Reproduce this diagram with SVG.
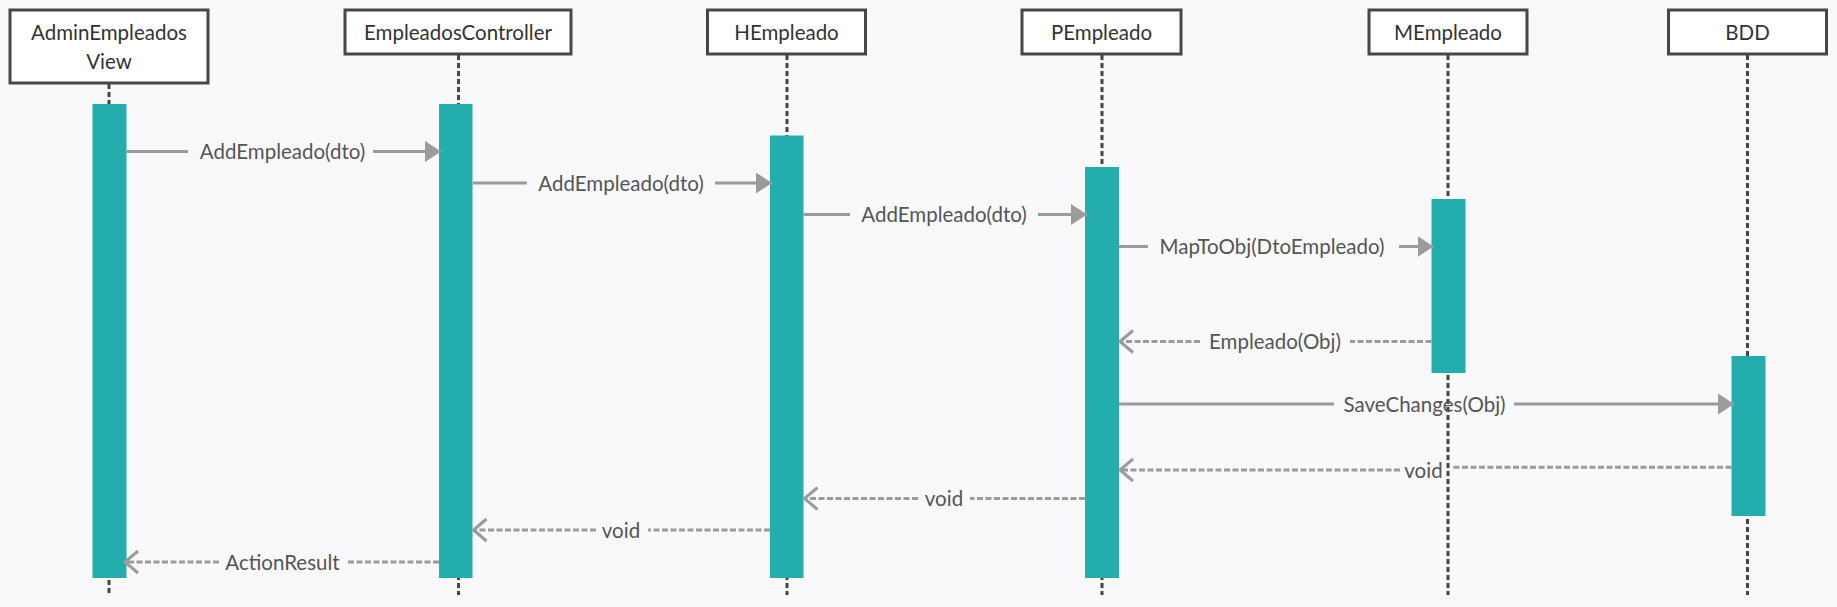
<svg xmlns="http://www.w3.org/2000/svg" width="1837" height="607" viewBox="0 0 1837 607">
<style>
.box{fill:#ffffff;stroke:#474747;stroke-width:3}
.lbl{font-family:Lato,"Liberation Sans",sans-serif;font-size:20.5px;fill:#333333;text-anchor:middle}
.life{stroke:#444444;stroke-width:3;stroke-dasharray:5 3;fill:none}
.bar{fill:#24adad}
.msg{stroke:#9b9b9b;stroke-width:3;fill:none}
.ret{stroke:#9b9b9b;stroke-width:3;fill:none;stroke-dasharray:6 2.5}
.mtxt{font-family:Lato,"Liberation Sans",sans-serif;font-size:20.5px;fill:#555555;text-anchor:middle}
</style>
<defs>
<marker id="tri" markerUnits="userSpaceOnUse" viewBox="0 0 16 21" refX="16" refY="10.5" markerWidth="16" markerHeight="21" orient="auto">
<path d="M0,0 L16,10.5 L0,21 z" fill="#9b9b9b"/>
</marker>
<marker id="vee" markerUnits="userSpaceOnUse" viewBox="-16 -13 18 26" refX="0" refY="0" markerWidth="18" markerHeight="26" orient="auto" overflow="visible">
<path d="M-13,-11 L0,0 L-13,11" fill="none" stroke="#9b9b9b" stroke-width="3"/>
</marker>
</defs>
<rect x="0" y="0" width="1837" height="607" fill="#f9f9fb"/>

<g id="lifelines">
<line class="life" x1="109" y1="84" x2="109" y2="595"/>
<line class="life" x1="458.5" y1="55" x2="458.5" y2="595"/>
<line class="life" x1="787" y1="55" x2="787" y2="595"/>
<line class="life" x1="1102" y1="55" x2="1102" y2="595"/>
<line class="life" x1="1448" y1="55" x2="1448" y2="595"/>
<line class="life" x1="1747.5" y1="55" x2="1747.5" y2="595"/>
</g>

<g id="n1">
<rect class="box" x="10" y="10" width="198" height="73"/>
<text class="lbl" x="109" y="39.5">AdminEmpleados</text>
<text class="lbl" x="109" y="68.5">View</text>
<rect class="bar" x="92.5" y="104" width="34" height="474"/>
</g>
<g id="n2">
<rect class="box" x="345" y="10" width="226" height="44"/>
<text class="lbl" x="458" y="39.5">EmpleadosController</text>
<rect class="bar" x="439" y="104" width="33.5" height="474"/>
</g>
<g id="n3">
<rect class="box" x="707.5" y="10" width="158" height="44"/>
<text class="lbl" x="786.5" y="39.5">HEmpleado</text>
<rect class="bar" x="770" y="135.5" width="33.5" height="442.5"/>
</g>
<g id="n4">
<rect class="box" x="1022" y="10" width="159" height="44"/>
<text class="lbl" x="1101.5" y="39.5">PEmpleado</text>
<rect class="bar" x="1085" y="167" width="34" height="411"/>
</g>
<g id="n5">
<rect class="box" x="1369" y="10" width="158" height="44"/>
<text class="lbl" x="1448" y="39.5">MEmpleado</text>
<rect class="bar" x="1431.5" y="199" width="34" height="174"/>
</g>
<g id="n6">
<rect class="box" x="1668.5" y="10" width="158" height="44"/>
<text class="lbl" x="1747.5" y="39.5">BDD</text>
<rect class="bar" x="1731.5" y="356" width="34" height="160"/>
</g>

<g id="connectors">
<line class="msg" x1="126.5" y1="151.5" x2="188" y2="151.5"/>
<line class="msg" x1="373" y1="151.5" x2="441" y2="151.5" marker-end="url(#tri)"/>
<text class="mtxt" x="282.5" y="159">AddEmpleado(dto)</text>

<line class="msg" x1="472.5" y1="183" x2="527" y2="183"/>
<line class="msg" x1="715" y1="183" x2="772" y2="183" marker-end="url(#tri)"/>
<text class="mtxt" x="621" y="190.5">AddEmpleado(dto)</text>

<line class="msg" x1="803.5" y1="214.5" x2="850" y2="214.5"/>
<line class="msg" x1="1038" y1="214.5" x2="1087" y2="214.5" marker-end="url(#tri)"/>
<text class="mtxt" x="944" y="222">AddEmpleado(dto)</text>

<line class="msg" x1="1119" y1="246.5" x2="1148" y2="246.5"/>
<line class="msg" x1="1399" y1="246.5" x2="1433.5" y2="246.5" marker-end="url(#tri)"/>
<text class="mtxt" x="1272" y="254">MapToObj(DtoEmpleado)</text>

<line class="ret" x1="1431.5" y1="341.5" x2="1350" y2="341.5"/>
<line class="ret" x1="1200" y1="341.5" x2="1120" y2="341.5" marker-end="url(#vee)"/>
<text class="mtxt" x="1275" y="349">Empleado(Obj)</text>

<line class="msg" x1="1119" y1="404" x2="1334" y2="404"/>
<line class="msg" x1="1514" y1="404" x2="1734" y2="404" marker-end="url(#tri)"/>
<text class="mtxt" x="1424.5" y="411.5">SaveChanges(Obj)</text>

<line class="ret" x1="1731.5" y1="467.3" x2="1451" y2="467.3"/>
<line class="ret" x1="1400" y1="470" x2="1120" y2="470" marker-end="url(#vee)"/>
<text class="mtxt" x="1423.5" y="477.5">void</text>

<line class="ret" x1="1085" y1="498.5" x2="970" y2="498.5"/>
<line class="ret" x1="918" y1="498.5" x2="804.5" y2="498.5" marker-end="url(#vee)"/>
<text class="mtxt" x="944" y="506">void</text>

<line class="ret" x1="770" y1="530" x2="648" y2="530"/>
<line class="ret" x1="596" y1="530" x2="473.5" y2="530" marker-end="url(#vee)"/>
<text class="mtxt" x="621" y="537.5">void</text>

<line class="ret" x1="439" y1="562" x2="347" y2="562"/>
<line class="ret" x1="219" y1="562" x2="125" y2="562" marker-end="url(#vee)"/>
<text class="mtxt" x="282.5" y="569.5">ActionResult</text>
</g>
</svg>
